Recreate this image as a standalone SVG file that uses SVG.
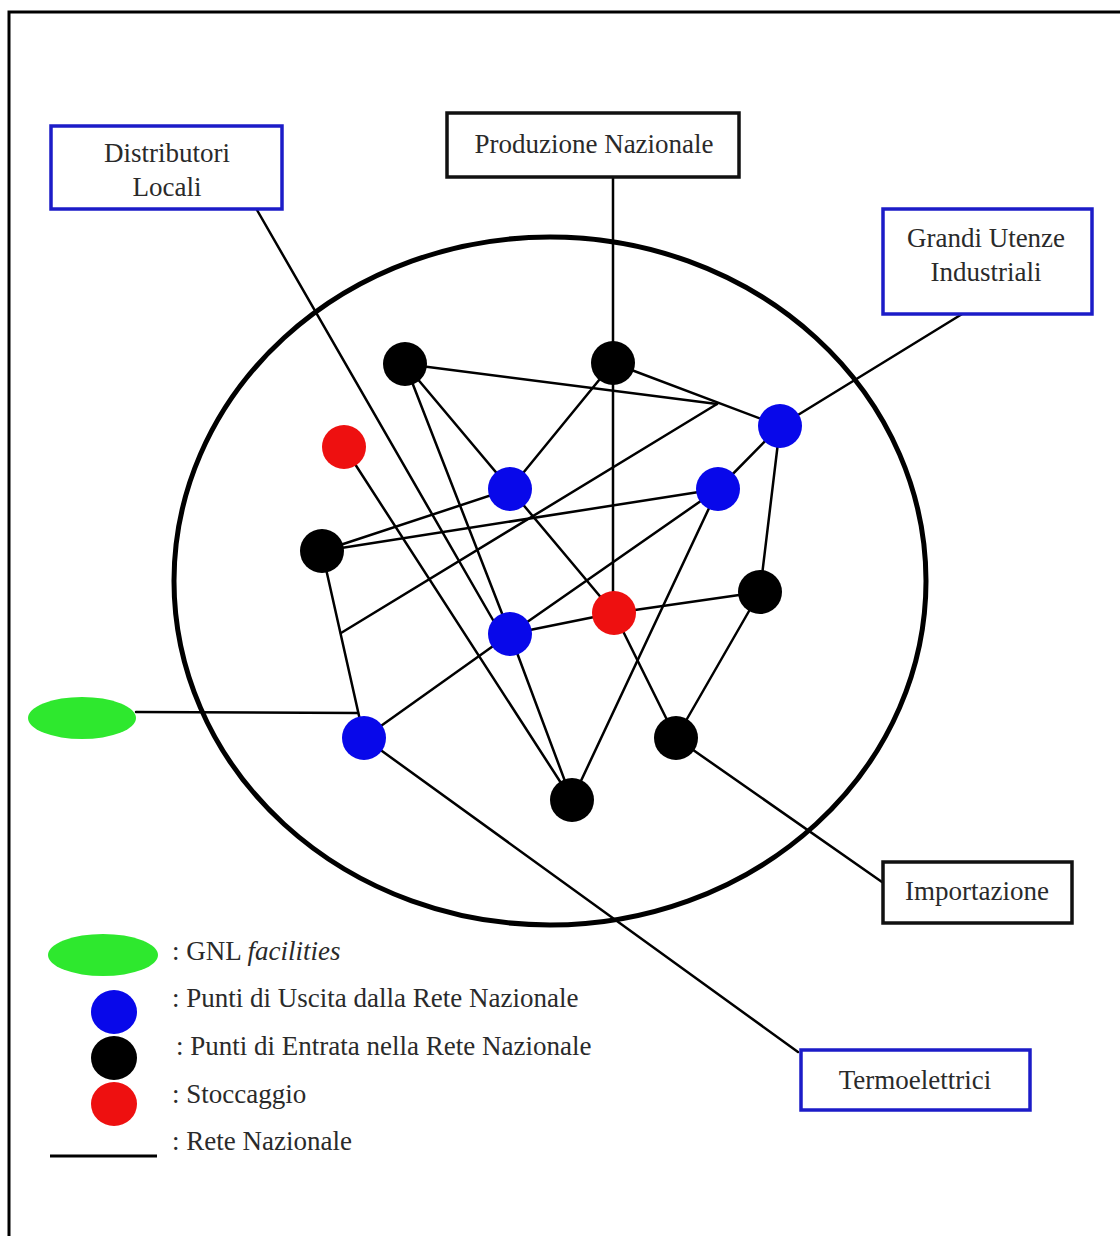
<svg xmlns="http://www.w3.org/2000/svg" width="1120" height="1236" viewBox="0 0 1120 1236">
  <style>
    .frame { fill: none; stroke: #000; stroke-width: 3; }
    .ring { fill: none; stroke: #000; stroke-width: 5; }
    .box-black { fill: #fff; stroke: #111; stroke-width: 3.5; }
    .box-blue { fill: #fff; stroke: #1c1cc8; stroke-width: 3.5; }
    .lbl { font-family: "Liberation Serif", "Times New Roman", serif; font-size: 27px; fill: #2a2a2a; }
    .mid { text-anchor: middle; }
    .edge { stroke: #000; stroke-width: 2.5; fill: none; stroke-linecap: round; }
    .exit { fill: #0808ea; }
    .entry { fill: #000; }
    .store { fill: #ee1010; }
    .gnl { fill: #2ee82e; }
  </style>

  <rect width="1120" height="1236" fill="#fff"/>

  <!-- outer frame: top and left edges -->
  <path class="frame" d="M1120 12 H9 V1236"/>

  <!-- national network boundary -->
  <ellipse class="ring" cx="550" cy="581" rx="376" ry="344"/>

  <!-- pipelines of the national network -->
  <g id="connectors" class="edge">
    <!-- links to the external actors -->
    <line x1="257" y1="210" x2="493" y2="620"/>
    <line x1="613" y1="177" x2="613" y2="613"/>
    <line x1="780" y1="426" x2="967" y2="311"/>
    <line x1="676" y1="738" x2="882" y2="882"/>
    <line x1="364" y1="738" x2="798" y2="1052"/>
    <line x1="136" y1="712" x2="358" y2="713"/>
    <!-- internal grid -->
    <line x1="405" y1="364" x2="717" y2="404"/>
    <line x1="405" y1="364" x2="510" y2="489"/>
    <line x1="405" y1="364" x2="510" y2="634"/>
    <line x1="613" y1="363" x2="510" y2="489"/>
    <line x1="613" y1="363" x2="780" y2="426"/>
    <line x1="341" y1="633" x2="717" y2="404"/>
    <line x1="322" y1="551" x2="510" y2="489"/>
    <line x1="322" y1="551" x2="718" y2="489"/>
    <line x1="322" y1="551" x2="364" y2="738"/>
    <line x1="510" y1="489" x2="614" y2="613"/>
    <line x1="718" y1="489" x2="780" y2="426"/>
    <line x1="718" y1="489" x2="510" y2="634"/>
    <line x1="718" y1="489" x2="572" y2="800"/>
    <line x1="780" y1="426" x2="760" y2="592"/>
    <line x1="510" y1="634" x2="614" y2="613"/>
    <line x1="510" y1="634" x2="572" y2="800"/>
    <line x1="364" y1="738" x2="510" y2="634"/>
    <line x1="614" y1="613" x2="760" y2="592"/>
    <line x1="614" y1="613" x2="676" y2="738"/>
    <line x1="760" y1="592" x2="676" y2="738"/>
    <line x1="344" y1="447" x2="572" y2="800"/>
  </g>

  <!-- external actors -->
  <g id="distributori-locali">
    <rect class="box-blue" x="51" y="126" width="231" height="83"/>
    <text class="lbl mid" x="167" y="162">Distributori</text>
    <text class="lbl mid" x="167" y="196">Locali</text>
  </g>
  <g id="produzione-nazionale">
    <rect class="box-black" x="447" y="113" width="292" height="64"/>
    <text class="lbl mid" x="594" y="153">Produzione Nazionale</text>
  </g>
  <g id="grandi-utenze">
    <rect class="box-blue" x="883" y="209" width="209" height="105"/>
    <text class="lbl mid" x="986" y="247">Grandi Utenze</text>
    <text class="lbl mid" x="986" y="281">Industriali</text>
  </g>
  <g id="importazione">
    <rect class="box-black" x="883" y="862" width="189" height="61"/>
    <text class="lbl mid" x="977" y="900">Importazione</text>
  </g>
  <g id="termoelettrici">
    <rect class="box-blue" x="801" y="1050" width="229" height="60"/>
    <text class="lbl mid" x="915" y="1089">Termoelettrici</text>
  </g>
  <g id="gnl-facility">
    <ellipse class="gnl" cx="82" cy="718" rx="54" ry="21"/>
  </g>

  <!-- entry points -->
  <g id="entry-1"><circle class="entry" cx="405" cy="364" r="22"/></g>
  <g id="entry-2"><circle class="entry" cx="613" cy="363" r="22"/></g>
  <g id="entry-3"><circle class="entry" cx="322" cy="551" r="22"/></g>
  <g id="entry-4"><circle class="entry" cx="760" cy="592" r="22"/></g>
  <g id="entry-5"><circle class="entry" cx="676" cy="738" r="22"/></g>
  <g id="entry-6"><circle class="entry" cx="572" cy="800" r="22"/></g>

  <!-- exit points -->
  <g id="exit-1"><circle class="exit" cx="510" cy="489" r="22"/></g>
  <g id="exit-2"><circle class="exit" cx="718" cy="489" r="22"/></g>
  <g id="exit-3"><circle class="exit" cx="780" cy="426" r="22"/></g>
  <g id="exit-4"><circle class="exit" cx="510" cy="634" r="22"/></g>
  <g id="exit-5"><circle class="exit" cx="364" cy="738" r="22"/></g>

  <!-- storage sites -->
  <g id="storage-1"><circle class="store" cx="344" cy="447" r="22"/></g>
  <g id="storage-2"><circle class="store" cx="614" cy="613" r="22"/></g>

  <!-- legend -->
  <g id="legend">
    <ellipse class="gnl" cx="103" cy="955" rx="55" ry="21"/>
    <text class="lbl" x="172" y="960">: GNL <tspan font-style="italic">facilities</tspan></text>
    <ellipse class="exit" cx="114" cy="1012" rx="23" ry="22"/>
    <text class="lbl" x="172" y="1007">: Punti di Uscita dalla Rete Nazionale</text>
    <ellipse class="entry" cx="114" cy="1058" rx="23" ry="22"/>
    <text class="lbl" x="176" y="1055">: Punti di Entrata nella Rete Nazionale</text>
    <ellipse class="store" cx="114" cy="1104" rx="23" ry="22"/>
    <text class="lbl" x="172" y="1103">: Stoccaggio</text>
    <line x1="50" y1="1156" x2="157" y2="1156" stroke="#000" stroke-width="3"/>
    <text class="lbl" x="172" y="1150">: Rete Nazionale</text>
  </g>
</svg>
